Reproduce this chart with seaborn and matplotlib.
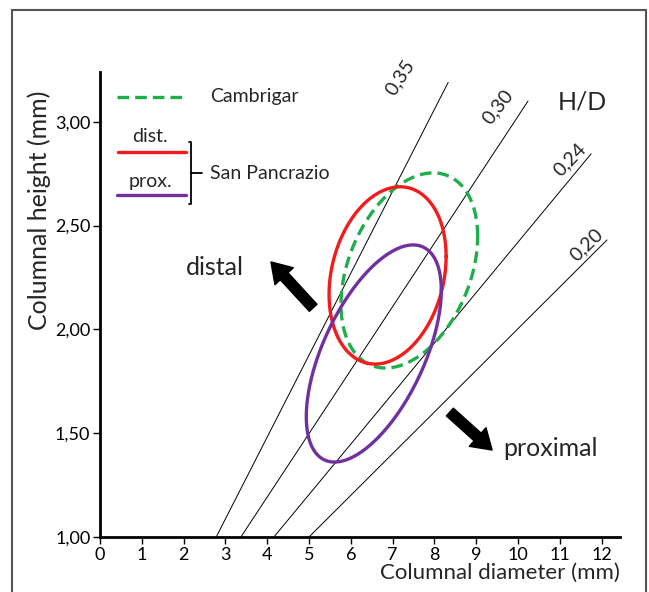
import numpy as np
import matplotlib
matplotlib.use("Agg")
import matplotlib.pyplot as plt
import pandas as pd
import seaborn as sns
from matplotlib.patches import Rectangle

# Ellipses (data units)
ellipse_names = ["Cambrigar", "dist.", "prox."]
ellipse_colors = ["#1fae4b", "#f31b1b", "#7030a0"]
centre_x = [7.40, 6.88, 6.55]
centre_y = [2.284, 2.26, 1.884]
half_x = [1.635, 1.40, 1.615]
half_y = [0.47, 0.427, 0.523]
top_x = [7.97, 7.18, 7.49]  # x where each ellipse reaches its top

# H/D guide lines: start on y=1.00, end at top point
hd_labels = ["0,35", "0,30", "0,24", "0,20"]
line_x0 = [2.78, 3.37, 4.16, 5.00]
line_x1 = [8.33, 10.24, 11.75, 12.13]
line_y1 = [3.19, 3.10, 2.846, 2.431]

x_ticks = list(range(0, 13))
y_ticks = [1.00, 1.50, 2.00, 2.50, 3.00]
y_tick_labels = ["1,00", "1,50", "2,00", "2,50", "3,00"]

sns.set_style("ticks")
plt.rcParams["font.family"] = ["Lato", "DejaVu Sans"]

fig = plt.figure(figsize=(6.49, 5.92), dpi=100)
ax = fig.add_axes([0.1541, 0.0929, 0.8012, 0.7855])

# frame around the figure
fig.patches.append(Rectangle((12 / 649, -0.1), 634 / 649, 1.1 - 10 / 592,
                             transform=fig.transFigure, fill=False,
                             edgecolor="#555555", linewidth=1.5))

# guide lines
for lab, x0, x1, y1 in zip(hd_labels, line_x0, line_x1, line_y1):
    seg = pd.DataFrame({"x": [x0, x1], "y": [1.0, y1]})
    sns.lineplot(data=seg, x="x", y="y", ax=ax, color="black", linewidth=0.7)

# ellipses
t = np.linspace(0, 2 * np.pi, 300)
for name, col, cx, cy, rx, ry, tx in zip(ellipse_names, ellipse_colors, centre_x,
                                         centre_y, half_x, half_y, top_x):
    phi = np.arccos((tx - cx) / rx)
    df = pd.DataFrame({"x": cx + rx * np.cos(t), "y": cy + ry * np.cos(t - phi)})
    ls = (0, (3.5, 1.8)) if name == "Cambrigar" else "-"
    sns.lineplot(data=df, x="x", y="y", ax=ax, sort=False, estimator=None,
                 color=col, linewidth=2.4, linestyle=ls)

# line labels
label_pos = [(7.18, 3.212), (9.52, 3.07), (11.24, 2.817), (11.65, 2.407)]
label_rot = [57, 52, 46, 44]
for lab, (lx, ly), rot in zip(hd_labels, label_pos, label_rot):
    ax.text(lx, ly, lab, rotation=rot, ha="center", va="center", fontsize=14)
ax.text(11.53, 3.096, "H/D", ha="center", va="center", fontsize=18)

# arrows and direction text
arrow = dict(arrowstyle="simple,head_length=1.4,head_width=1.8,tail_width=0.75",
             color="black", mutation_scale=10, shrinkA=0, shrinkB=0)
ax.annotate("", xy=(4.09, 2.325), xytext=(5.10, 2.104), arrowprops=arrow)
ax.annotate("", xy=(9.38, 1.419), xytext=(8.37, 1.602), arrowprops=arrow)
ax.text(2.75, 2.30, "distal", ha="center", va="center", fontsize=18)
ax.text(10.77, 1.424, "proximal", ha="center", va="center", fontsize=18)

# hand-made legend (axes coordinates)
tr = ax.transAxes
def ax_xy(px, py):
    return (px - 100) / 520, (537 - py) / 465

for (p0, p1, col, ls) in [((117, 96.7), (185, 96.7), ellipse_colors[0], (0, (3.5, 1.8))),
                          ((118, 151.7), (186, 151.7), ellipse_colors[1], "-"),
                          ((117, 195), (186, 195), ellipse_colors[2], "-")]:
    a, b = ax_xy(*p0), ax_xy(*p1)
    ax.plot([a[0], b[0]], [a[1], b[1]], transform=tr, color=col, linewidth=2.4,
            linestyle=ls, clip_on=False)
bx = [ax_xy(189, 141.7), ax_xy(190.7, 141.7), ax_xy(190.7, 204), ax_xy(189, 204)]
ax.plot([p[0] for p in bx], [p[1] for p in bx], transform=tr, color="black",
        linewidth=1.3, clip_on=False)
m0, m1 = ax_xy(190.7, 173.3), ax_xy(202, 173.3)
ax.plot([m0[0], m1[0]], [m0[1], m1[1]], transform=tr, color="black", linewidth=1.3)
ax.text(*ax_xy(210, 96.7), ellipse_names[0], transform=tr, va="center", fontsize=14)
ax.text(*ax_xy(150, 136.7), ellipse_names[1], transform=tr, va="center", ha="center", fontsize=14)
ax.text(*ax_xy(150, 181.7), ellipse_names[2], transform=tr, va="center", ha="center", fontsize=14)
ax.text(*ax_xy(210, 173.3), "San Pancrazio", transform=tr, va="center", fontsize=14)

ax.set_xlim(0, 12.44)
ax.set_ylim(1.0, 3.24)
ax.set_xticks(x_ticks)
ax.set_xticklabels([str(v) for v in x_ticks])
ax.set_yticks(y_ticks)
ax.set_yticklabels(y_tick_labels)
ax.tick_params(labelsize=13, length=5, width=1, colors="black", pad=2)
for s in ["left", "bottom"]:
    ax.spines[s].set_linewidth(2)
    ax.spines[s].set_color("black")
sns.despine(ax=ax)
ax.set_xlabel("Columnal diameter (mm)", fontsize=16, loc="right", labelpad=0)
ax.set_ylabel("Columnal height (mm)", fontsize=18)
ax.yaxis.set_label_coords(-0.094, 0.703)

fig.savefig("out.png", dpi=100)
